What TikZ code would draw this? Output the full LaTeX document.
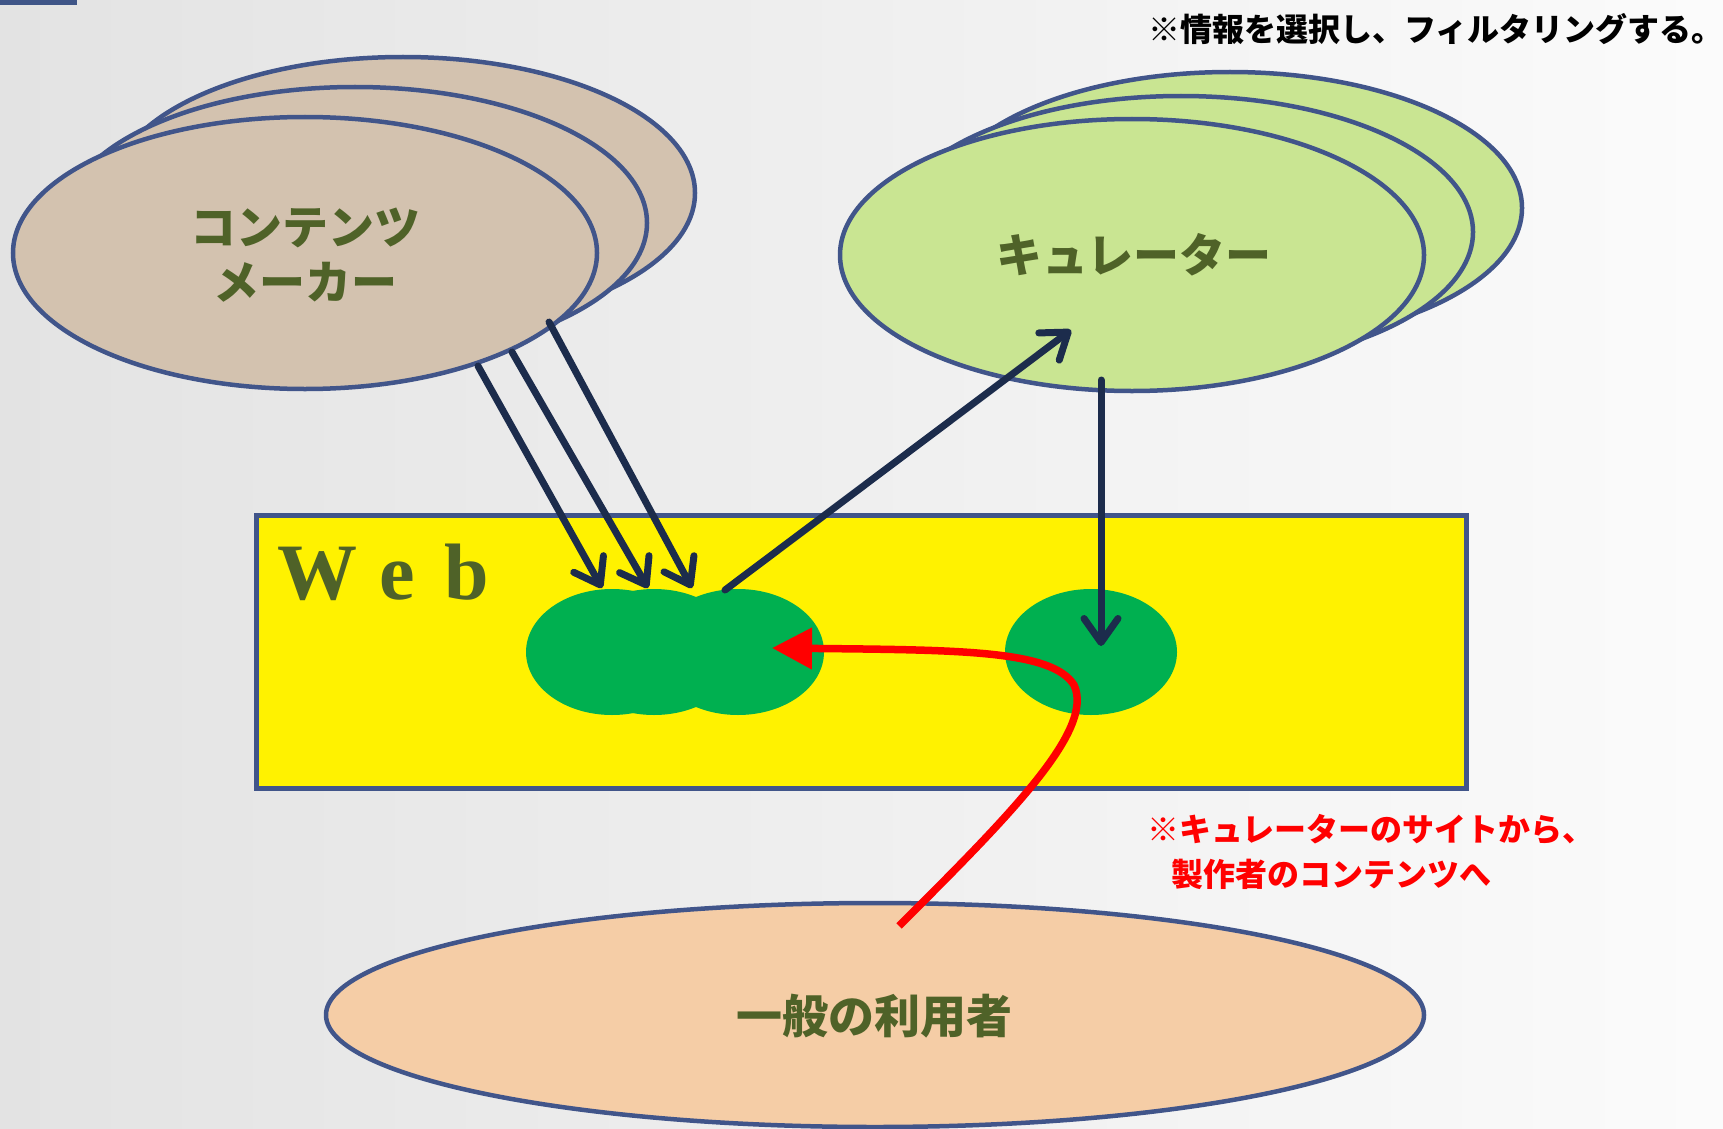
\documentclass[tikz,border=0pt]{standalone}
\usepackage{fontspec}
\setmainfont{Liberation Serif}
\newfontfamily\jp{Noto Sans CJK JP}
\usetikzlibrary{shapes.geometric,arrows.meta}
\definecolor{edgeblue}{HTML}{41558A}
\definecolor{tanfill}{HTML}{D3C2AF}
\definecolor{curfill}{HTML}{C9E592}
\definecolor{blobgreen}{HTML}{00B050}
\definecolor{peach}{HTML}{F5CDA6}
\definecolor{olive}{HTML}{4F6228}
\definecolor{navy}{HTML}{1C2C4C}
\definecolor{barblue}{HTML}{3F5587}
\begin{document}
\begin{tikzpicture}[x=1pt,y=-1pt,
  bigell/.style={ellipse, draw=edgeblue, line width=4.5pt, minimum width=584pt, minimum height=272pt, inner sep=0pt},
  cmell/.style={bigell, fill=tanfill},
  cuell/.style={bigell, fill=curfill},
  blob/.style={ellipse, fill=blobgreen, minimum width=172pt, minimum height=126pt, inner sep=0pt},
  bigtext/.style={text=olive, font=\jp\bfseries\fontsize{46}{55}\selectfont, align=center},
  navyarrow/.style={draw=navy, line width=7pt, line cap=round, -{Straight Barb[length=24pt,width=34pt,round]}},
  redarrow/.style={draw=red, line width=7.5pt, -{Triangle[length=40pt,width=40pt]}}]
% background
\shade[left color=gray!22, right color=gray!3] (0,0) rectangle (1723,1129);
\useasboundingbox (0,0) rectangle (1723,1129);
\fill[barblue] (0,0) rectangle (77,5);
% top-right note
\node[font=\jp\bfseries\fontsize{32}{38}\selectfont, text=black, inner sep=0pt] (note) at (1436,29) {※情報を選択し、フィルタリングする。};
% content maker stack
\node[cmell] (cmB) at (403,193) {};
\node[cmell] (cmM) at (355,223) {};
\node[cmell] (cmF) at (305,253) {};
\node[bigtext] (cmT) at (305,255) {コンテンツ\\メーカー};
% curator stack
\node[cuell] (cuB) at (1230,208) {};
\node[cuell] (cuM) at (1181,232) {};
\node[cuell] (cuF) at (1132,255) {};
\node[bigtext] (cuT) at (1134,255) {キュレーター};
% web
\node[draw=edgeblue, fill=yellow, line width=5pt, minimum width=1210pt, minimum height=273pt, inner sep=0pt] (web) at (861,651.5) {};
\node[anchor=base west, text=olive, font=\bfseries\fontsize{80}{90}\selectfont, inner sep=0pt] (webT) at (277,599) {W\hspace{22pt}e\hspace{30pt}b};
% green blobs
\node[blob] (g1) at (612,652) {};
\node[blob] (g2) at (654,652) {};
\node[blob] (g3) at (738,652) {};
\node[blob] (g4) at (1091,652) {};
% general user
\node[ellipse, draw=edgeblue, line width=4.5pt, fill=peach, minimum width=1098pt, minimum height=224pt, inner sep=0pt] (user) at (875,1015) {};
\node[bigtext] (userT) at (874,1016) {一般の利用者};
% connector ends
\coordinate (a1s) at (478,366); \coordinate (a1e) at (602,588);
\coordinate (a2s) at (512,352); \coordinate (a2e) at (648,588);
\coordinate (a3s) at (549,322); \coordinate (a3e) at (692,588);
\coordinate (a4s) at (725,590); \coordinate (a4e) at (1071,330);
\coordinate (a5s) at (1101,380); \coordinate (a5e) at (1101,646);
\coordinate (rs) at (899,926); \coordinate (re) at (772,648);
% arrows
\draw[navyarrow] (a1s) -- (a1e);
\draw[navyarrow] (a2s) -- (a2e);
\draw[navyarrow] (a3s) -- (a3e);
\draw[navyarrow] (a4s) -- (a4e);
\draw[navyarrow] (a5s) -- (a5e);
\draw[redarrow] (rs) .. controls (1010,815) and (1095,730) .. (1074,685) .. controls (1052,650) and (960,650) .. (re);
% red note
\node[anchor=west, align=left, text=red, font=\jp\bfseries\fontsize{32}{45}\selectfont, inner sep=0pt] (rnote) at (1147,852) {※キュレーターのサイトから、\\\hspace*{24pt}製作者のコンテンツへ};
\end{tikzpicture}
\end{document}
